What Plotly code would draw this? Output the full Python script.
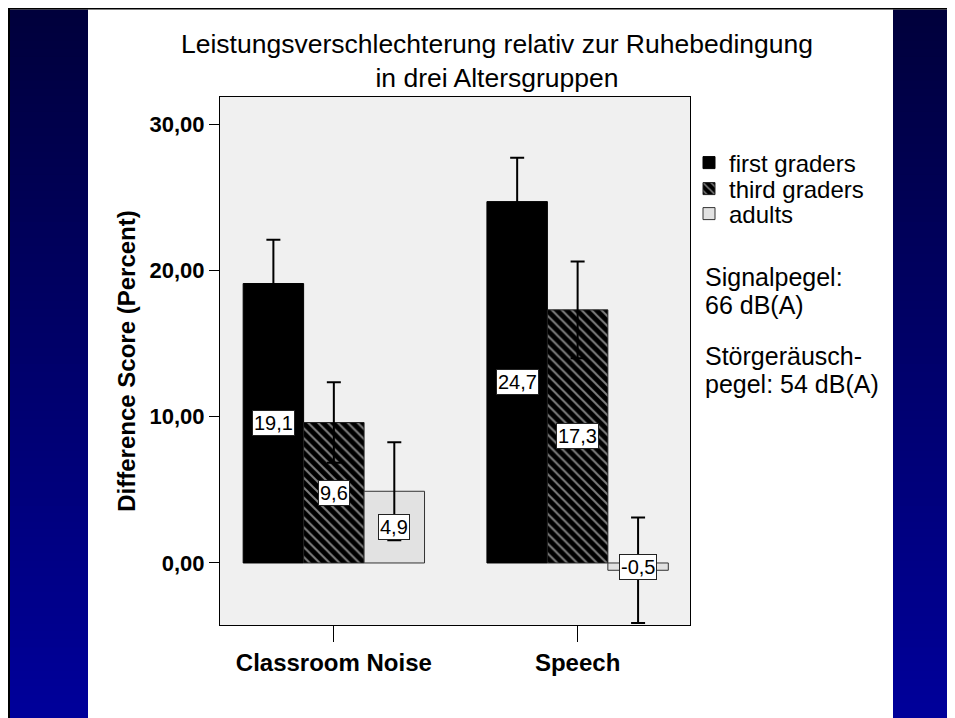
import plotly.graph_objects as go

# ---------------- data ----------------
categories = ["Classroom Noise", "Speech"]
groups = ["first graders", "third graders", "adults"]
first_graders = [19.1, 24.7]
third_graders = [9.6, 17.3]
adults = [4.9, -0.5]
err_first = [3.0, 3.0]
err_third = [2.75, 3.3]
err_adults = [3.35, 3.6]
value_labels_first = ["19,1", "24,7"]
value_labels_third = ["9,6", "17,3"]
value_labels_adults = ["4,9", "-0,5"]
ytick_vals = [0, 10, 20, 30]
ytick_text = ["0,00", "10,00", "20,00", "30,00"]
title_text = "Leistungsverschlechterung relativ zur Ruhebedingung<br>in drei Altersgruppen"
side_notes = ["Signalpegel:", "66 dB(A)", "Störgeräusch-", "pegel: 54 dB(A)"]

# ---------------- layout helpers ----------------
OFF = 8                      # page offset of the figure inside the window
W, H = 955 - OFF, 718 - OFF  # figure size
# plot area given in window pixels
L, R, T, B = 220, 690, 97, 625


def px2x(px):
    return (px - L) / (R - L)


def px2y(py):
    return (B - py) / (B - T)


FONT = "Arial, Liberation Sans, sans-serif"

fig = go.Figure()

legend_ids = ["legend", "legend2", "legend3"]
series = [
    (groups[0], first_graders, err_first,
     dict(color="black", line=dict(color="black", width=1))),
    (groups[1], third_graders, err_third,
     dict(color="black", line=dict(color="#222222", width=1),
          pattern=dict(shape="\\", fgcolor="white", bgcolor="black", size=7, solidity=0.28))),
    (groups[2], adults, err_adults,
     dict(color="#e2e2e2", line=dict(color="#333333", width=1))),
]

for (name, vals, errs, marker), lid in zip(series, legend_ids):
    fig.add_trace(go.Bar(
        x=categories, y=vals, name=name, marker=marker, legend=lid,
        error_y=dict(type="data", array=errs, visible=True, color="black",
                     thickness=2, width=7),
    ))

# value labels at half bar height
bar_w = 0.248
labels_all = [value_labels_first, value_labels_third, value_labels_adults]
vals_all = [first_graders, third_graders, adults]
for gi, (labs, vals) in enumerate(zip(labels_all, vals_all)):
    for ci, (lab, v) in enumerate(zip(labs, vals)):
        fig.add_annotation(
            x=ci + (gi - 1) * bar_w, y=v / 2, xref="x", yref="y",
            text=lab, showarrow=False,
            font=dict(family=FONT, size=20, color="black"),
            bgcolor="white", bordercolor="#222222", borderwidth=1, borderpad=1,
        )

# side notes
note_y = [277, 305, 356, 384]
for txt, py in zip(side_notes, note_y):
    fig.add_annotation(
        x=px2x(703), y=px2y(py), xref="paper", yref="paper",
        text=txt, showarrow=False, xanchor="left", yanchor="middle", align="left",
        font=dict(family=FONT, size=25, color="black"),
    )

# background: gradient side panels and frame lines (window pixel coords)
shapes = []
n = 90
y0 = 9.5
for i in range(n):
    ya = y0 + (H + OFF - y0) * i / n
    t = (i + 0.5) / n
    c = f"rgb(0,0,{int(60 + 95 * t)})"
    for xa, xb in [(10, 88), (893, 960)]:
        shapes.append(dict(type="rect", xref="paper", yref="paper", layer="below",
                           x0=px2x(xa), x1=px2x(xb), y0=px2y(ya), y1=px2y(H + OFF + 5),
                           fillcolor=c, line=dict(width=0)))
shapes.append(dict(type="rect", xref="paper", yref="paper", layer="below",
                   x0=px2x(7), x1=px2x(960), y0=px2y(7), y1=px2y(9.5),
                   fillcolor="black", line=dict(width=0)))
shapes.append(dict(type="rect", xref="paper", yref="paper", layer="below",
                   x0=px2x(7), x1=px2x(10), y0=px2y(7), y1=px2y(H + OFF + 5),
                   fillcolor="black", line=dict(width=0)))

legend_rows = [163, 189, 214]
legend_style = dict(xanchor="left", yanchor="middle", bgcolor="rgba(0,0,0,0)",
                    font=dict(family=FONT, size=24, color="black"),
                    itemclick=False, itemdoubleclick=False)

fig.update_layout(
    width=W, height=H,
    margin=dict(l=L - OFF, r=W + OFF - R, t=T - OFF, b=H + OFF - B, autoexpand=False),
    paper_bgcolor="white", plot_bgcolor="#f0f0f0",
    barmode="group", bargap=0.256, bargroupgap=0,
    font=dict(family=FONT, color="black"),
    title=dict(text=title_text, xref="container", yref="container",
               x=(497 - OFF) / W, y=1 - (53 - OFF) / H, xanchor="center", yanchor="middle",
               font=dict(family=FONT, size=26.5, color="black")),
    legend=dict(x=px2x(689), y=px2y(legend_rows[0]), **legend_style),
    legend2=dict(x=px2x(689), y=px2y(legend_rows[1]), **legend_style),
    legend3=dict(x=px2x(689), y=px2y(legend_rows[2]), **legend_style),
    shapes=shapes,
    showlegend=True,
)

fig.update_xaxes(
    range=[-0.467, 1.461], showline=True, mirror=True, linecolor="black", linewidth=1,
    ticks="outside", ticklen=16, tickwidth=1, tickcolor="black",
    tickfont=dict(family=FONT, size=24, color="black", weight="bold"),
    showgrid=False, zeroline=False,
)
fig.update_yaxes(
    range=[-4.24, 31.85], showline=True, mirror=True, linecolor="black", linewidth=1,
    tickvals=ytick_vals, ticktext=ytick_text,
    ticks="outside", ticklen=10, tickwidth=1, tickcolor="black",
    tickfont=dict(family=FONT, size=22, color="black", weight="bold"),
    title=dict(text="Difference Score (Percent)", standoff=7,
               font=dict(family=FONT, size=24, color="black", weight="bold")),
    showgrid=False, zeroline=False,
)

fig.write_html("out.html")
